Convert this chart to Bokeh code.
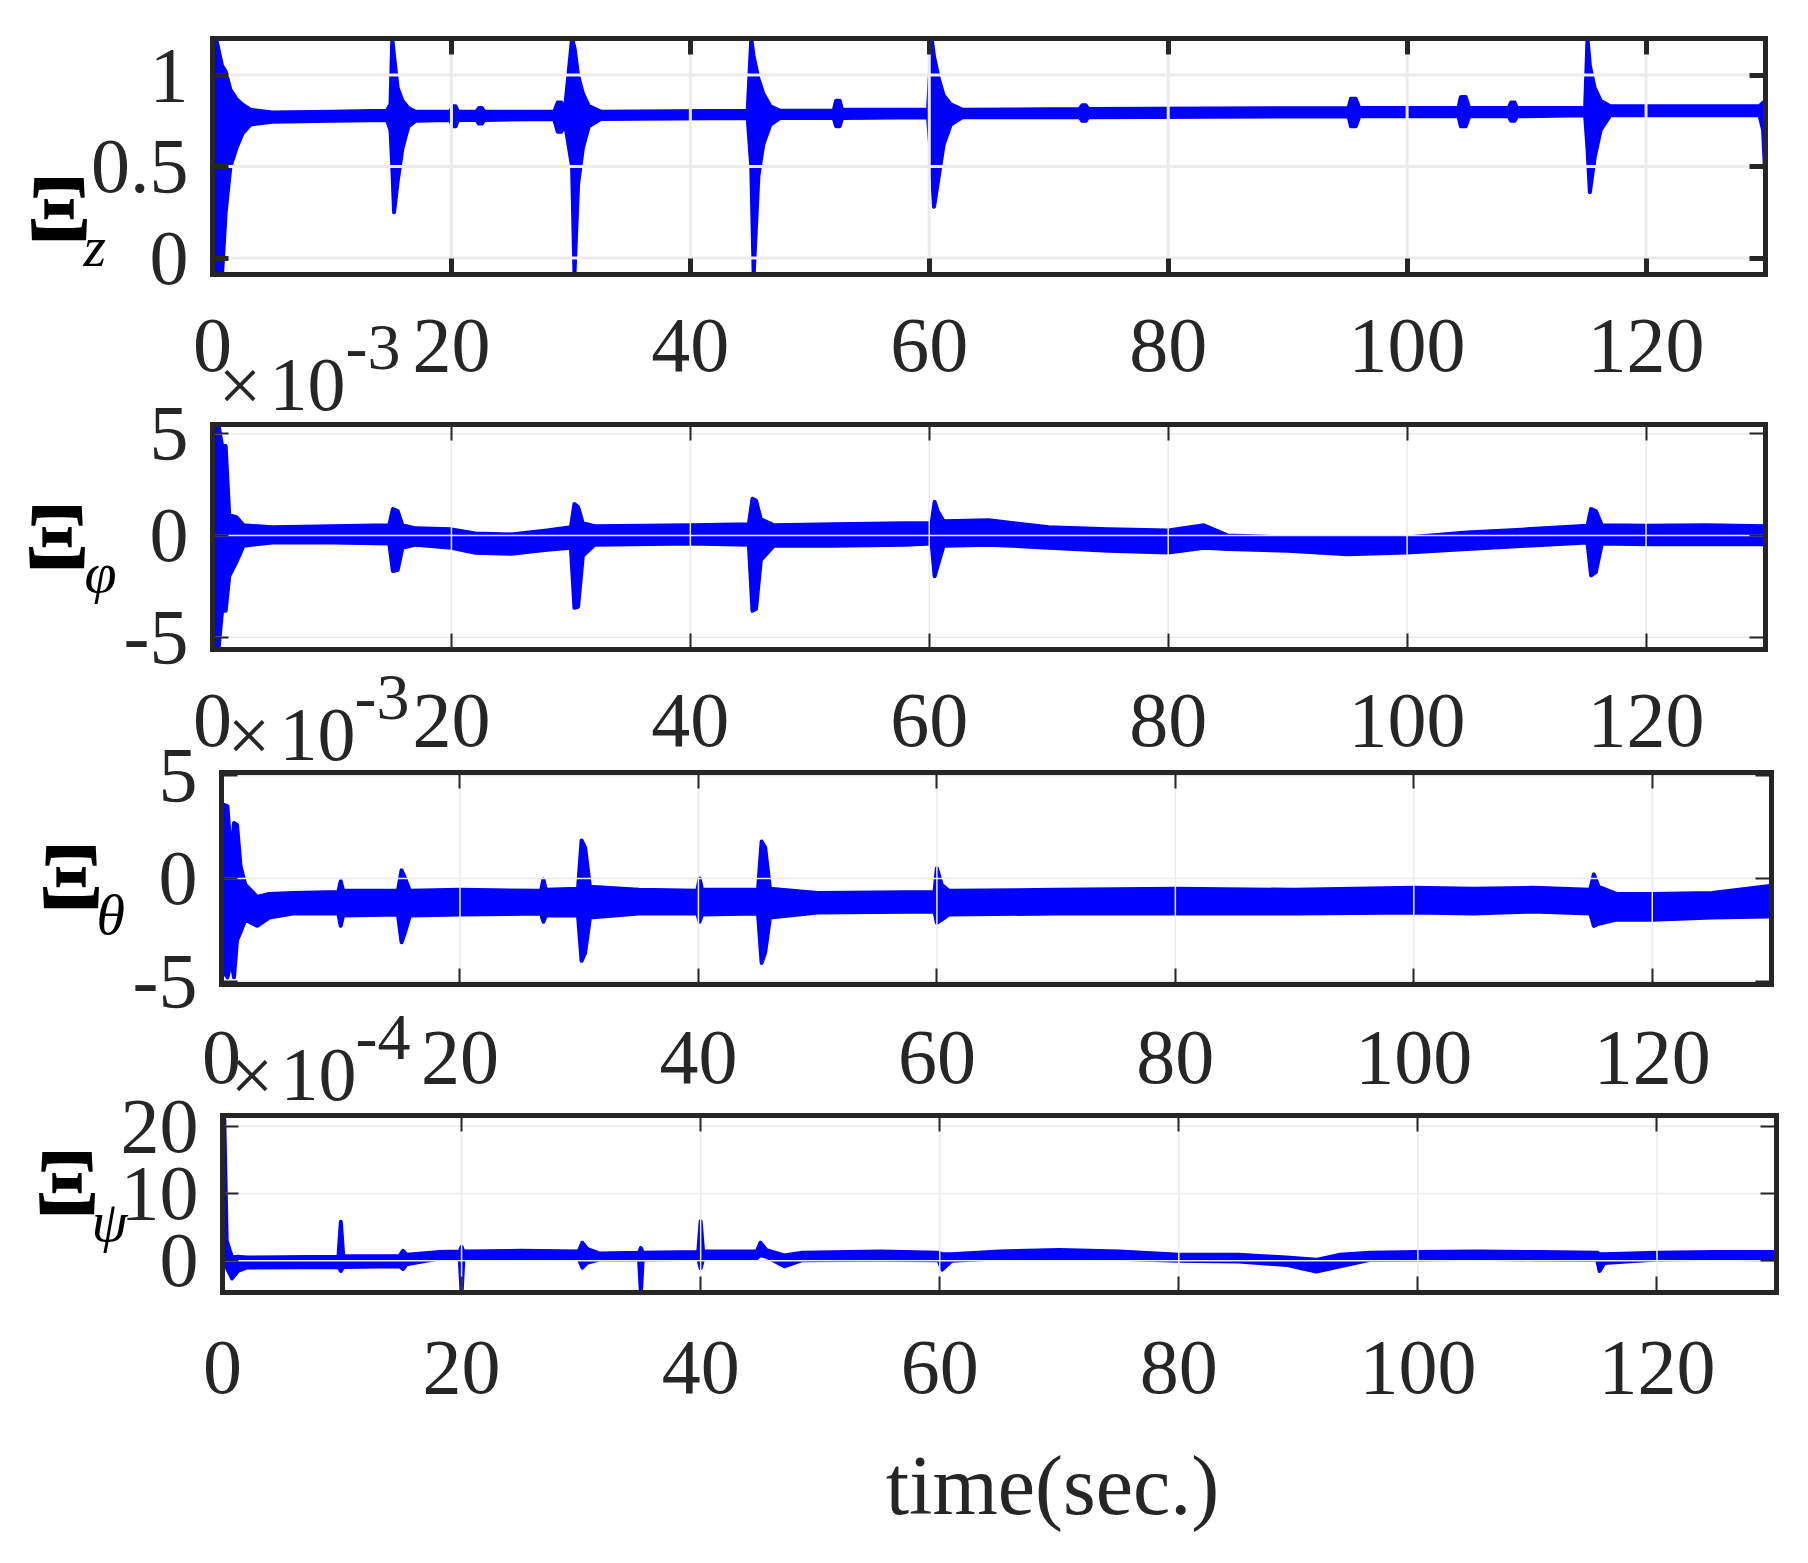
from bokeh.plotting import figure
from bokeh.models import Range1d, FixedTicker, LinearAxis, Label
from bokeh.embed import file_html
from bokeh.resources import INLINE

# ---------------- data (envelopes of the noisy traces) ----------------
# Xi_z
z_t = [0.0, 0.3, 0.8, 1.1, 1.5, 2.0, 2.5, 3.2, 5, 10, 14.6, 14.9, 15.05, 15.2, 15.5, 15.9, 16.4, 17,
       19.9, 20.1, 20.35, 20.55, 22.1, 22.3, 22.55, 22.75, 28.6, 28.9, 29.2, 29.5, 30.1, 30.3, 30.6, 31.0, 31.5, 32.5,
       44.8, 45.1, 45.3, 45.7, 46.1, 46.7, 47.5, 52.0, 52.2, 52.5, 52.7, 59.9, 60.2, 60.4, 60.8, 61.2, 61.8,
       62.8, 72.6, 72.8, 73.1, 73.3, 95.1, 95.3, 95.7, 96.0, 104.3, 104.5, 104.9, 105.2, 108.5, 108.7, 109.0, 109.2,
       114.9, 115.1, 115.3, 115.7, 116.2, 117, 129.5, 129.8, 130]
z_lo = [0.75, -0.09, -0.09, 0.25, 0.5, 0.6, 0.68, 0.73, 0.745, 0.75, 0.755, 0.70, 0.5, 0.25, 0.42, 0.6, 0.72, 0.75,
        0.755, 0.72, 0.72, 0.755, 0.755, 0.735, 0.735, 0.755, 0.76, 0.69, 0.69, 0.74, 0.5, -0.09, 0.4, 0.6, 0.72, 0.76,
        0.765, 0.5, -0.09, 0.45, 0.62, 0.73, 0.765, 0.765, 0.72, 0.72, 0.765, 0.77, 0.5, 0.28, 0.45, 0.62, 0.73,
        0.77, 0.77, 0.75, 0.75, 0.77, 0.775, 0.72, 0.72, 0.775, 0.775, 0.72, 0.72, 0.775, 0.775, 0.75, 0.75, 0.775,
        0.78, 0.6, 0.36, 0.55, 0.7, 0.78, 0.78, 0.7, 0.42]
z_hi = [1.2, 1.2, 1.05, 1.02, 0.92, 0.87, 0.84, 0.81, 0.795, 0.80, 0.805, 0.84, 1.2, 1.1, 0.93, 0.86, 0.82, 0.80,
        0.80, 0.83, 0.83, 0.80, 0.80, 0.82, 0.82, 0.80, 0.80, 0.85, 0.85, 0.81, 1.2, 1.15, 1.0, 0.9, 0.83, 0.80,
        0.805, 1.2, 1.1, 0.98, 0.9, 0.83, 0.805, 0.805, 0.86, 0.86, 0.81, 0.81, 1.2, 1.1, 0.98, 0.89, 0.84,
        0.81, 0.815, 0.835, 0.835, 0.815, 0.82, 0.87, 0.87, 0.82, 0.82, 0.88, 0.88, 0.82, 0.82, 0.85, 0.85, 0.82,
        0.82, 1.2, 1.05, 0.93, 0.86, 0.83, 0.83, 0.85, 0.84]

# Xi_phi  (x 1e-3)
phi_t = [0.0, 0.15, 0.5, 0.8, 1.1, 1.4, 2.0, 2.6, 5, 10, 14.8, 15.1, 15.5, 15.9, 17, 20, 22, 25, 28,
         30.0, 30.3, 30.6, 31.0, 32, 40, 44.9, 45.2, 45.5, 45.9, 47, 52, 58, 60.2, 60.45, 60.7, 61.2,
         65, 70, 75, 80, 83, 85, 90, 95, 100, 105, 110, 115.1, 115.4, 115.8, 116.3, 120, 125, 130]
phi_lo = [-0.3, -5.6, -5.6, -3.7, -3.7, -2.0, -1.3, -0.5, -0.35, -0.35, -0.4, -1.75, -1.7, -0.6, -0.45, -0.6, -0.85, -0.9, -0.7,
          -0.6, -3.55, -3.5, -1.0, -0.45, -0.4, -0.45, -3.7, -3.6, -1.2, -0.5, -0.5, -0.45, -0.4, -2.0, -1.5, -0.5,
          -0.45, -0.6, -0.75, -0.84, -0.6, -0.67, -0.75, -0.92, -0.84, -0.67, -0.5, -0.35, -1.96, -1.8, -0.4, -0.43, -0.43, -0.43]
phi_hi = [0.3, 5.45, 5.45, 4.4, 4.4, 1.0, 0.9, 0.5, 0.4, 0.45, 0.5, 1.3, 1.2, 0.5, 0.35, 0.3, 0.1, 0.05, 0.25,
          0.4, 1.55, 1.4, 0.6, 0.45, 0.5, 0.55, 1.8, 1.7, 0.8, 0.5, 0.55, 0.6, 0.6, 1.65, 1.2, 0.7,
          0.75, 0.4, 0.3, 0.25, 0.5, 0.0, -0.1, -0.1, -0.1, 0.15, 0.3, 0.48, 1.3, 1.2, 0.5, 0.48, 0.5, 0.45]

# Xi_theta  (x 1e-3)
th_t = [0.0, 0.1, 0.5, 0.8, 1.05, 1.3, 1.6, 2.0, 3.0, 4.0, 6, 9.8, 10.0, 10.2, 14.8, 15.1, 15.4, 15.8, 20,
        26.8, 27.0, 27.2, 29.9, 30.2, 30.5, 30.9, 35, 39.9, 40.1, 40.3, 45.0, 45.3, 45.6, 46.0, 50,
        59.8, 60.0, 60.4, 61, 70, 80, 90, 100, 105, 110, 114.8, 115.1, 115.5, 117, 120, 125, 129.7, 130]
th_lo = [-0.3, -4.5, -4.8, -4.0, -4.8, -3.0, -2.6, -2.0, -2.3, -1.9, -1.7, -1.7, -2.3, -1.8, -1.75, -3.1, -2.6, -1.8, -1.75,
         -1.7, -2.1, -1.8, -1.8, -4.0, -3.6, -1.9, -1.7, -1.7, -2.1, -1.75, -1.7, -4.1, -3.6, -1.9, -1.65,
         -1.6, -2.15, -2.0, -1.75, -1.7, -1.7, -1.7, -1.65, -1.7, -1.6, -1.7, -2.3, -2.2, -2.0, -2.0, -1.9, -1.85, -1.7]
th_hi = [0.3, 3.6, 3.5, 1.0, 2.7, 2.6, 0.6, -0.3, -0.9, -0.75, -0.7, -0.65, -0.13, -0.6, -0.6, 0.4, 0.0, -0.6, -0.55,
         -0.6, -0.05, -0.55, -0.5, 1.85, 1.5, -0.4, -0.55, -0.6, 0.0, -0.55, -0.55, 1.8, 1.5, -0.5, -0.7,
         -0.65, 0.5, -0.3, -0.6, -0.55, -0.5, -0.55, -0.45, -0.5, -0.45, -0.55, 0.2, -0.4, -0.75, -0.75, -0.7, -0.37, -0.6]

# Xi_psi  (x 1e-4)
psi_t = [0.0, 0.15, 0.35, 0.8, 1.3, 2.0, 9.7, 9.9, 10.1, 14.8, 15.1, 15.4, 18, 19.85, 20.0, 20.15, 25, 29.8,
         30.1, 30.5, 31.5, 34.85, 35.0, 35.15, 39.8, 40.0, 40.2, 44.7, 45.0, 45.5, 47.0, 48.5, 55, 59.9,
         60.2, 61, 65, 70, 75, 80, 85, 89, 91.5, 93.5, 96, 100, 105, 110, 115.0, 115.2, 115.6, 120, 125, 130]
psi_lo = [18, 4, -1.0, -2.6, -1.5, -1.0, -0.9, -1.5, -0.9, -0.8, -1.2, -0.5, 0.3, 0.3, -4.8, 0.3, 0.4, 0.3,
          -1.0, -0.3, 0.2, 0.2, -4.8, 0.2, 0.3, -1.1, 0.3, 0.4, 0.9, 0.6, -0.8, 0.1, 0.15, 0.1,
          -1.3, 0.0, 0.4, 0.4, 0.3, 0.0, -0.1, -0.6, -1.6, -0.8, 0.15, 0.2, 0.3, 0.2, 0.15, -1.5, -0.3, 0.2, 0.3, 0.2]
psi_hi = [21.6, 21.0, 3.0, 0.5, 0.6, 0.5, 0.6, 5.8, 0.7, 0.7, 1.5, 0.9, 1.3, 1.4, 2.1, 1.4, 1.5, 1.4,
          2.7, 1.8, 1.1, 1.2, 1.9, 1.2, 1.3, 5.9, 1.4, 1.4, 2.7, 1.6, 0.8, 1.2, 1.4, 1.2,
          1.0, 1.0, 1.4, 1.6, 1.4, 0.9, 0.9, 0.5, 0.15, 0.9, 1.2, 1.3, 1.4, 1.3, 1.2, 1.0, 1.0, 1.2, 1.3, 1.3]

x_ticks = [0, 20, 40, 60, 80, 100, 120]
x_tick_labels = ["0", "20", "40", "60", "80", "100", "120"]
z_ticks, z_tick_labels = [0, 0.5, 1], ["0", "0.5", "1"]
phi_ticks, phi_tick_labels = [-5, 0, 5], ["-5", "0", "5"]
th_ticks, th_tick_labels = [-5, 0, 5], ["-5", "0", "5"]
psi_ticks, psi_tick_labels = [0, 10, 20], ["0", "10", "20"]

# ---------------- styling / layout ----------------
BLUE = "#0000ff"
DARK = "#262626"
GRID = "#ebebeb"
FONT = "Liberation Serif"
TICK_FS = "78px"
CW, CH = 1800, 1555          # canvas size
PX0, PY0 = 0, 0              # page position of the canvas' top-left corner

# one canvas; default ranges are page pixels, each panel has its own data ranges
p = figure(width=CW, height=CH, x_range=Range1d(PX0, PX0 + CW), y_range=Range1d(PY0 + CH, PY0),
           x_axis_type=None, y_axis_type=None, min_border=0,
           output_backend="svg", toolbar_location=None)
p.outline_line_color = None
p.background_fill_color = "white"
p.border_fill_color = "white"
p.xgrid.visible = False
p.ygrid.visible = False


def panel(name, box, xr, yr, yt, ytl, src, tick_w, grid_w, so_x, so_y):
    L, R, T, B = box
    kx = (xr[1] - xr[0]) / (R - L)
    ky = (yr[1] - yr[0]) / (B - T)
    p.extra_x_ranges[name] = Range1d(xr[0] - (L - PX0) * kx, xr[1] + (PX0 + CW - R) * kx)
    p.extra_y_ranges[name] = Range1d(yr[0] - (PY0 + CH - B) * ky, yr[1] + (T - PY0) * ky)
    kw = dict(x_range_name=name, y_range_name=name)

    t, lo, hi = src
    p.varea(x=t, y1=lo, y2=hi, fill_color=BLUE, **kw)
    p.line(t, lo, line_color=BLUE, line_width=4, line_join="round", line_cap="round", **kw)
    p.line(t, hi, line_color=BLUE, line_width=4, line_join="round", line_cap="round", **kw)

    # grid lines (drawn above the trace, like the original)
    p.segment(x0=x_ticks, x1=x_ticks, y0=[yr[0]] * len(x_ticks), y1=[yr[1]] * len(x_ticks),
              line_color=GRID, line_width=grid_w, **kw)
    p.segment(x0=[xr[0]] * len(yt), x1=[xr[1]] * len(yt), y0=yt, y1=yt,
              line_color=GRID, line_width=grid_w, **kw)

    def axis(place, ticks, labels, fixed, bounds, so):
        a = LinearAxis(ticker=FixedTicker(ticks=ticks), fixed_location=fixed, bounds=bounds, **kw)
        a.axis_line_color = DARK
        a.axis_line_width = 5
        a.axis_line_cap = "square"
        a.major_tick_in = 16
        a.major_tick_out = 0
        a.major_tick_line_color = DARK
        a.major_tick_line_width = tick_w
        a.minor_tick_line_color = None
        if labels is not None:
            a.major_label_text_font = FONT
            a.major_label_text_font_size = TICK_FS
            a.major_label_text_color = DARK
            a.major_label_standoff = so
            a.major_label_overrides = {float(k): v for k, v in zip(ticks, labels)}
        else:
            a.major_label_text_color = None
        p.add_layout(a, place)

    axis("below", x_ticks, x_tick_labels, yr[0], tuple(xr), so_x)
    axis("above", x_ticks, None, yr[1], tuple(xr), 0)
    axis("left", yt, ytl, xr[0], tuple(yr), so_y)
    axis("right", yt, None, xr[1], tuple(yr), 0)


# panel boxes in page pixels: (left, right, top, bottom)
panel("z", (212, 1765, 38, 274), (0, 130), (-0.09, 1.2), z_ticks, z_tick_labels,
      (z_t, z_lo, z_hi), 5, 3, 45, 24)
panel("phi", (212, 1765, 424, 649), (0, 130), (-5.6, 5.45), phi_ticks, phi_tick_labels,
      (phi_t, phi_lo, phi_hi), 2, 1.5, 45, 24)
panel("theta", (221, 1771, 772, 984), (0, 130), (-5.15, 5.15), th_ticks, th_tick_labels,
      (th_t, th_lo, th_hi), 2, 1.5, 47, 24)
panel("psi", (222, 1776, 1115, 1292), (0, 130), (-4.7, 21.6), psi_ticks, psi_tick_labels,
      (psi_t, psi_lo, psi_hi), 2, 1.5, 49, 24)


def text(X, Y, s, size, style="normal", color=DARK, align="left"):
    # X, Y: wanted left edge / baseline in page pixels (the renderer puts the baseline ~0.3 em lower)
    p.add_layout(Label(x=int(X), y=int(round(Y - 0.3 * size)), text=s, text_font=FONT,
                       text_font_size="%dpx" % size, text_font_style=style, text_color=color,
                       text_baseline="alphabetic", text_align=align))


# y labels: bold Xi with italic subscripts
text(26, 237, "Ξ", 96, "bold", "black")
text(83, 263, "z", 58, "italic", "black")
text(24, 565, "Ξ", 96, "bold", "black")
text(84, 589, "φ", 58, "italic", "black")
text(38, 905, "Ξ", 96, "bold", "black")
text(96, 931, "θ", 58, "italic", "black")
text(34, 1211, "Ξ", 96, "bold", "black")
text(91, 1238, "ψ", 58, "italic", "black")

# exponent multipliers
text(218, 407, "×", 76)
text(269, 407, "10", 76)
text(345, 367, "-3", 66)
text(227, 757, "×", 76)
text(279, 757, "10", 76)
text(354, 717, "-3", 66)
text(230, 1097, "×", 76)
text(280, 1097, "10", 76)
text(355, 1057, "-4", 66)

# x label
text(1052, 1510, "time(sec.)", 84, align="center")

open("out.html", "w").write(file_html(p, INLINE))
